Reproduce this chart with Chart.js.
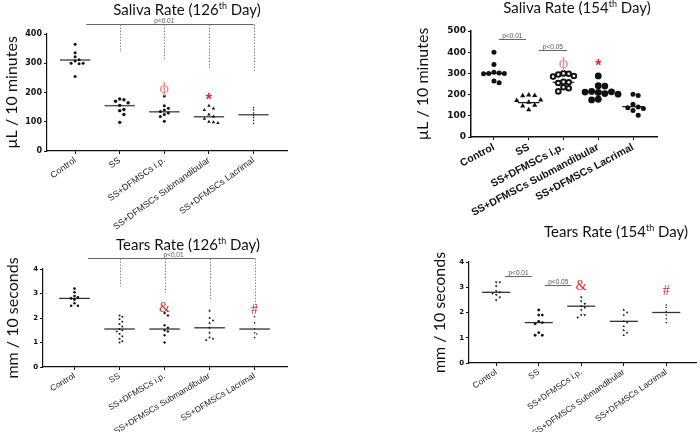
<!DOCTYPE html>
<html lang="en">
<head>
  <meta charset="UTF-8">
  <title>Saliva and Tears Rate</title>
  <script src="https://cdn.jsdelivr.net/npm/chart.js"></script>
  <style>
    html, body { margin: 0; padding: 0; background: #fff; }
    #wrap { position: relative; width: 700px; height: 432px; overflow: hidden; }
    #wrap canvas { position: absolute; left: 0; top: 0; }
  </style>
</head>
<body>
  <div id="wrap">
    <canvas id="saliva126" width="700" height="432"></canvas>
    <canvas id="saliva154" width="700" height="432"></canvas>
    <canvas id="tears126" width="700" height="432"></canvas>
    <canvas id="tears154" width="700" height="432"></canvas>
  </div>

  <script>
    const groups = ['Control', 'SS', 'SS+DFMSCs i.p.', 'SS+DFMSCs Submandibular', 'SS+DFMSCs Lacrimal'];

    // Saliva Rate (126th Day), µL / 10 minutes
    const saliva126 = [
      [365, 336, 322, 312, 308, 300, 300, 298, 255],
      [178, 175, 170, 165, 156, 142, 138, 125, 98],
      [188, 155, 146, 140, 135, 130, 125, 118, 102],
      [155, 145, 140, 125, 118, 110, 100, 98, 96],
      [148, 140, 130, 122, 115, 105, 95]
    ];
    const saliva126Mean = [311, 155, 134, 117, 124];
    const saliva126Ticks = [0, 100, 200, 300, 400];
    const saliva126Drops = [null, 338, 315, 284, 273];
    const saliva126Marks = [null, null, 'ϕ', '*', null];
    const saliva126MarkAt = [null, null, 212, 182, null];

    // Saliva Rate (154th Day)
    const saliva154 = [
      [400, 342, 305, 302, 300, 300, 298, 264, 256],
      [198, 196, 194, 175, 172, 164, 150, 146, 128],
      [300, 298, 295, 288, 285, 260, 258, 255, 235, 230, 215],
      [288, 242, 240, 215, 213, 212, 210, 205, 202, 178, 175],
      [202, 196, 155, 142, 138, 135, 125, 103]
    ];
    const saliva154Mean = [300, 162, 258, 213, 143];
    const saliva154Ticks = [0, 100, 200, 300, 400, 500];
    const saliva154Marks = [null, null, 'ϕ', '*', null];
    const saliva154MarkAt = [null, null, 343, 344, null];

    // Tears Rate (126th Day), mm / 10 seconds
    const tears126 = [
      [3.2, 3.05, 2.9, 2.85, 2.8, 2.75, 2.6, 2.5, 2.5],
      [2.1, 2.05, 1.95, 1.85, 1.75, 1.65, 1.55, 1.5, 1.45, 1.35, 1.25, 1.15, 1.05, 1.0],
      [2.2, 2.1, 1.7, 1.6, 1.5, 1.45, 1.3, 1.0],
      [2.3, 2.0, 1.9, 1.8, 1.6, 1.4, 1.2, 1.15, 1.1],
      [2.05, 1.8, 1.55, 1.4, 1.35, 1.2]
    ];
    const tears126Mean = [2.8, 1.55, 1.55, 1.6, 1.55];
    const tears126Ticks = [0, 1, 2, 3, 4];
    const tears126Drops = [null, 3.29, 3.03, 2.7, 2.45];
    const tears126Marks = [null, null, '&', null, '#'];
    const tears126MarkAt = [null, null, 2.4, null, 2.3];

    // Tears Rate (154th Day)
    const tears154 = [
      [3.2, 3.2, 3.05, 2.85, 2.8, 2.75, 2.7, 2.6, 2.5],
      [2.1, 1.9, 1.9, 1.65, 1.6, 1.55, 1.2, 1.1, 1.1],
      [2.6, 2.45, 2.35, 2.25, 2.2, 2.1, 1.9, 1.9, 1.8],
      [2.1, 2.0, 1.9, 1.65, 1.6, 1.45, 1.3, 1.2, 1.1],
      [2.3, 2.2, 2.05, 1.9, 1.75, 1.6]
    ];
    const tears154Mean = [2.8, 1.6, 2.25, 1.65, 2.0];
    const tears154Ticks = [0, 1, 2, 3, 4];
    const tears154Marks = [null, null, '&', null, '#'];
    const tears154MarkAt = [null, null, 3.04, null, 2.85];

    Chart.defaults.font.family = '"Liberation Sans", Arial, sans-serif';
    Chart.defaults.animation = false;

    // spread points of one group sideways so they don't overlap
    function swarm(vals, idx, pxX, pxY, gap) {
      const placed = [];
      return vals.slice().sort((a, b) => b - a).map(v => {
        const py = v * pxY;
        let off = 0;
        for (let k = 0; k < 30; k++) {
          off = (k % 2 ? 1 : -1) * Math.ceil(k / 2) * gap;
          if (placed.every(p => Math.hypot(p.x - off, p.y - py) >= gap)) break;
        }
        placed.push({ x: off, y: py });
        return { x: idx + off / pxX, y: v };
      });
    }

    const marksPlugin = {
      id: 'marks',
      afterDatasetsDraw(chart, args, opts) {
        const { ctx, scales: { x, y } } = chart;
        ctx.save();
        // significance bars
        (opts.bars || []).forEach(b => {
          const yp = Math.round(y.getPixelForValue(b.y)) + 0.5;
          const x0 = x.getPixelForValue(b.from), x1 = x.getPixelForValue(b.to);
          ctx.strokeStyle = '#666';
          ctx.lineWidth = 1;
          ctx.setLineDash([]);
          ctx.beginPath(); ctx.moveTo(x0, yp); ctx.lineTo(x1, yp); ctx.stroke();
          ctx.fillStyle = '#555';
          ctx.font = '6.5px "Liberation Sans"';
          ctx.textAlign = 'center';
          ctx.textBaseline = 'bottom';
          ctx.fillText(b.text, b.textAt != null ? x.getPixelForValue(b.textAt) : (x0 + x1) / 2, yp - 0.5);
          if (b.drops) {
            ctx.strokeStyle = '#888';
            ctx.setLineDash([1.5, 1.5]);
            b.drops.forEach((d, i) => {
              if (d == null) return;
              const xp = Math.round(x.getPixelForValue(i)) + 0.5;
              ctx.beginPath(); ctx.moveTo(xp, yp); ctx.lineTo(xp, y.getPixelForValue(d)); ctx.stroke();
            });
            ctx.setLineDash([]);
          }
        });
        // red symbols
        (opts.marks || []).forEach((m, i) => {
          if (!m) return;
          const s = opts.markStyle[m];
          ctx.fillStyle = s.color;
          ctx.font = s.font;
          ctx.textAlign = 'center';
          ctx.textBaseline = 'middle';
          ctx.fillText(m, x.getPixelForValue(i), y.getPixelForValue(opts.markAt[i]) + (s.dy || 0));
        });
        // title with superscript
        const t = opts.title;
        if (t) {
          const head = t.name + ' (' + t.day, sup = 'th', tail = ' Day)';
          const big = t.size + 'px Lato', small = Math.round(t.size * 0.62) + 'px Lato';
          ctx.font = big;
          const w1 = ctx.measureText(head).width, w3 = ctx.measureText(tail).width;
          ctx.font = small;
          const w2 = ctx.measureText(sup).width;
          let xp = t.x - (w1 + w2 + w3) / 2;
          ctx.fillStyle = '#111';
          ctx.textAlign = 'left';
          ctx.textBaseline = 'alphabetic';
          ctx.font = big; ctx.fillText(head, xp, t.y); xp += w1;
          ctx.font = small; ctx.fillText(sup, xp, t.y - t.size * 0.38); xp += w2;
          ctx.font = big; ctx.fillText(tail, xp, t.y);
        }
        ctx.restore();
      }
    };
    Chart.register(marksPlugin);

    function makePanel(id, p) {
      const pxX = (p.right - p.left) / (p.xMax - p.xMin);
      const pxY = (p.bottom - p.top) / p.yMax;
      const datasets = p.values.map((vals, i) => {
        const st = p.styles[i];
        return {
          type: 'scatter',
          data: swarm(vals, i, pxX, pxY, st.gap),
          pointStyle: st.shape,
          pointRadius: st.r,
          pointRotation: st.rot || 0,
          backgroundColor: st.fill || '#111',
          borderColor: '#111',
          borderWidth: st.bw || 0
        };
      });
      p.means.forEach((m, i) => {
        datasets.push({
          type: 'line',
          data: [{ x: i - p.halfW, y: m }, { x: i + p.halfW, y: m }],
          borderColor: p.meanColor,
          borderWidth: p.meanWidth,
          pointRadius: 0
        });
      });
      const titleLH = 16 * 1.2;
      const padLeft = p.yTitleX - 3 - titleLH / 2;
      // tall x scale box: rotated labels are clipped to it
      const xH = Math.min(130, 432 - p.bottom);

      new Chart(document.getElementById(id), {
        data: { datasets },
        options: {
          responsive: false,
          events: [],
          layout: {
            padding: { left: padLeft, top: p.top, right: 700 - p.right, bottom: 432 - p.bottom - xH }
          },
          plugins: {
            legend: { display: false },
            tooltip: { enabled: false },
            marks: {
              bars: p.bars,
              marks: p.marks,
              markAt: p.markAt,
              markStyle: p.markStyle,
              title: p.title
            }
          },
          scales: {
            x: {
              type: 'linear',
              min: p.xMin,
              max: p.xMax,
              afterBuildTicks: s => { s.ticks = groups.map((g, i) => ({ value: i })); },
              afterFit: s => { s.height = xH; },
              grid: { drawOnChartArea: false, tickLength: 3, color: '#111', lineWidth: 1 },
              border: { display: true, color: '#111', width: p.axisWidth },
              ticks: {
                autoSkip: false,
                minRotation: p.rot,
                maxRotation: p.rot,
                padding: 1,
                color: p.xColor,
                font: p.xFont,
                callback: v => groups[v]
              }
            },
            y: {
              min: 0,
              max: p.yMax,
              afterBuildTicks: s => { s.ticks = p.ticks.map(v => ({ value: v })); },
              afterFit: s => { s.width = p.left - padLeft; },
              grid: { drawOnChartArea: false, tickLength: 3, color: '#111', lineWidth: 1 },
              border: { display: true, color: '#111', width: p.axisWidth },
              ticks: { padding: 2, color: '#111', font: p.yFont },
              title: {
                display: true,
                text: p.yTitle,
                color: '#111',
                padding: { top: 3, bottom: 0 },
                font: { family: 'Lato', size: 16 }
              }
            }
          }
        }
      });
    }

    const redMarks = {
      'ϕ': { color: '#ec8585', font: '14px "DejaVu Serif"' },
      '*': { color: '#e3262d', font: 'bold 16px "Liberation Sans"', dy: 3 },
      '&': { color: '#e3262d', font: '14px "Liberation Serif"' },
      '#': { color: '#e3262d', font: '14px "Liberation Serif"' }
    };

    makePanel('saliva126', {
      values: saliva126, means: saliva126Mean, ticks: saliva126Ticks,
      marks: saliva126Marks, markAt: saliva126MarkAt, markStyle: redMarks,
      bars: [{ from: 0.25, to: 4, y: 434, text: 'p<0.01', textAt: 2, drops: saliva126Drops }],
      title: { name: 'Saliva Rate', day: '126', x: 187, y: 15, size: 15 },
      left: 47, top: 34, right: 287, bottom: 151, xMin: -0.63, xMax: 4.75, yMax: 400,
      yTitle: 'µL / 10 minutes', yTitleX: 12,
      rot: 36, xColor: '#222', xFont: { size: 9 }, yFont: { size: 8, weight: 'bold', family: '"DejaVu Sans"' },
      axisWidth: 1.2, halfW: 0.34, meanColor: '#555', meanWidth: 1.5,
      styles: [
        { shape: 'circle', r: 1.5, gap: 4 },
        { shape: 'circle', r: 1.7, gap: 4.2 },
        { shape: 'circle', r: 1.5, gap: 4 },
        { shape: 'triangle', r: 2, gap: 4.5 },
        { shape: 'circle', r: 0.8, gap: 2 }
      ]
    });

    makePanel('saliva154', {
      values: saliva154, means: saliva154Mean, ticks: saliva154Ticks,
      marks: saliva154Marks, markAt: saliva154MarkAt, markStyle: redMarks,
      bars: [
        { from: 0.14, to: 0.92, y: 460, text: 'p<0.01' },
        { from: 1.29, to: 2.1, y: 412, text: 'p<0.05' }
      ],
      title: { name: 'Saliva Rate', day: '154', x: 577, y: 13, size: 15 },
      left: 471, top: 31, right: 657, bottom: 137, xMin: -0.66, xMax: 4.69, yMax: 500,
      yTitle: 'µL / 10 minutes', yTitleX: 423,
      rot: 28, xColor: '#111', xFont: { size: 10.5, weight: 'bold' }, yFont: { size: 9, weight: 'bold', family: '"DejaVu Sans"' },
      axisWidth: 1.5, halfW: 0.31, meanColor: '#111', meanWidth: 1.2,
      styles: [
        { shape: 'circle', r: 2.5, gap: 5.2 },
        { shape: 'triangle', r: 3, gap: 6 },
        { shape: 'circle', r: 2.3, gap: 5.2, fill: '#fff', bw: 2 },
        { shape: 'circle', r: 3.4, gap: 6.6 },
        { shape: 'circle', r: 2.5, gap: 5.2 }
      ]
    });

    makePanel('tears126', {
      values: tears126, means: tears126Mean, ticks: tears126Ticks,
      marks: tears126Marks, markAt: tears126MarkAt, markStyle: redMarks,
      bars: [{ from: 0.3, to: 4, y: 4.45, text: 'p<0.01', textAt: 2.2, drops: tears126Drops }],
      title: { name: 'Tears Rate', day: '126', x: 188, y: 250, size: 15 },
      left: 43, top: 269, right: 287, bottom: 367, xMin: -0.7, xMax: 4.72, yMax: 4,
      yTitle: 'mm / 10 seconds', yTitleX: 13,
      rot: 31, xColor: '#222', xFont: { size: 8.5 }, yFont: { size: 7, weight: 'bold', family: '"DejaVu Sans"' },
      axisWidth: 1.2, halfW: 0.34, meanColor: '#333', meanWidth: 1.3,
      styles: [
        { shape: 'circle', r: 1.3, gap: 3.4 },
        { shape: 'rect', r: 1.2, gap: 2.8 },
        { shape: 'rectRot', r: 1.5, gap: 3.4 },
        { shape: 'triangle', r: 1.5, gap: 3.4 },
        { shape: 'circle', r: 0.8, gap: 2 }
      ]
    });

    makePanel('tears154', {
      values: tears154, means: tears154Mean, ticks: tears154Ticks,
      marks: tears154Marks, markAt: tears154MarkAt, markStyle: redMarks,
      bars: [
        { from: 0.21, to: 0.84, y: 3.46, text: 'p<0.01' },
        { from: 1.15, to: 1.77, y: 3.08, text: 'p<0.05' }
      ],
      title: { name: 'Tears Rate', day: '154', x: 616, y: 237, size: 15 },
      left: 469, top: 262, right: 698, bottom: 363, xMin: -0.64, xMax: 4.7, yMax: 4,
      yTitle: 'mm / 10 seconds', yTitleX: 440,
      rot: 35, xColor: '#222', xFont: { size: 8.5 }, yFont: { size: 7, weight: 'bold', family: '"DejaVu Sans"' },
      axisWidth: 1.2, halfW: 0.33, meanColor: '#333', meanWidth: 1.3,
      styles: [
        { shape: 'triangle', r: 1.5, gap: 3.6, rot: 180 },
        { shape: 'circle', r: 1.4, gap: 3.6 },
        { shape: 'triangle', r: 1.5, gap: 3.6, rot: 180 },
        { shape: 'triangle', r: 1.4, gap: 3.4 },
        { shape: 'circle', r: 0.8, gap: 2 }
      ]
    });
  </script>
</body>
</html>
